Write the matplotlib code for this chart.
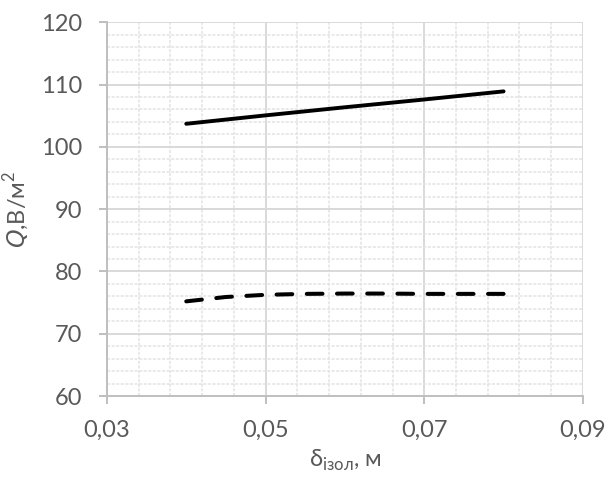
import matplotlib.pyplot as plt
from matplotlib.ticker import MultipleLocator, FuncFormatter

plt.rcParams['font.family'] = ['Lato', 'DejaVu Sans']
plt.rcParams['mathtext.fontset'] = 'custom'
plt.rcParams['mathtext.rm'] = 'Lato'
plt.rcParams['mathtext.it'] = 'DejaVu Sans:italic'

x_solid = [0.04, 0.05, 0.06, 0.07, 0.08]
q_solid = [103.7, 105.05, 106.35, 107.6, 108.9]

x_dash = [0.04, 0.045, 0.05, 0.055, 0.06, 0.065, 0.07, 0.075, 0.08]
q_dash = [75.2, 75.9, 76.25, 76.4, 76.45, 76.45, 76.4, 76.4, 76.4]

fig = plt.figure(figsize=(6.11, 4.83), dpi=100)
ax = fig.add_axes([0.175, 0.180, 0.779, 0.774])

ax.plot(x_solid, q_solid, color='black', lw=2.8, solid_capstyle='round', zorder=3)
ax.plot(x_dash, q_dash, color='black', lw=2.9, dashes=(3.9, 3.6),
        dash_capstyle='round', zorder=3)

ax.set_xlim(0.03, 0.09)
ax.set_ylim(60, 120)
ax.set_xticks([0.03, 0.05, 0.07, 0.09])
ax.xaxis.set_minor_locator(MultipleLocator(0.004, offset=0.002))
ax.yaxis.set_major_locator(MultipleLocator(10))
ax.yaxis.set_minor_locator(MultipleLocator(2))
ax.xaxis.set_major_formatter(FuncFormatter(lambda v, p: f"{v:.2f}".replace('.', ',')))

ax.grid(which='major', color='#d9d9d9', lw=1.4, zorder=0)
ax.grid(which='minor', color='#e3e3e3', lw=1.1, ls=(0, (2, 1)), zorder=0)
ax.set_axisbelow(True)

for s in ['top', 'right']:
    ax.spines[s].set_visible(False)
for s in ['left', 'bottom']:
    ax.spines[s].set_color('#bfbfbf')
    ax.spines[s].set_linewidth(1.4)

ax.tick_params(which='major', length=6, width=1.4, color='#bfbfbf',
               labelsize=17, labelcolor='#595959')
ax.tick_params(axis='y', pad=12)
ax.tick_params(axis='x', pad=11)
ax.tick_params(which='minor', length=0)

ax.set_xlabel(r'δ$_{\mathrm{ізол}}$, м', fontsize=17, color='#595959', labelpad=5)
ax.set_ylabel(r'$Q$,В/м$^2$', fontsize=17, color='#595959', labelpad=6)

fig.savefig('out.png', dpi=100)
